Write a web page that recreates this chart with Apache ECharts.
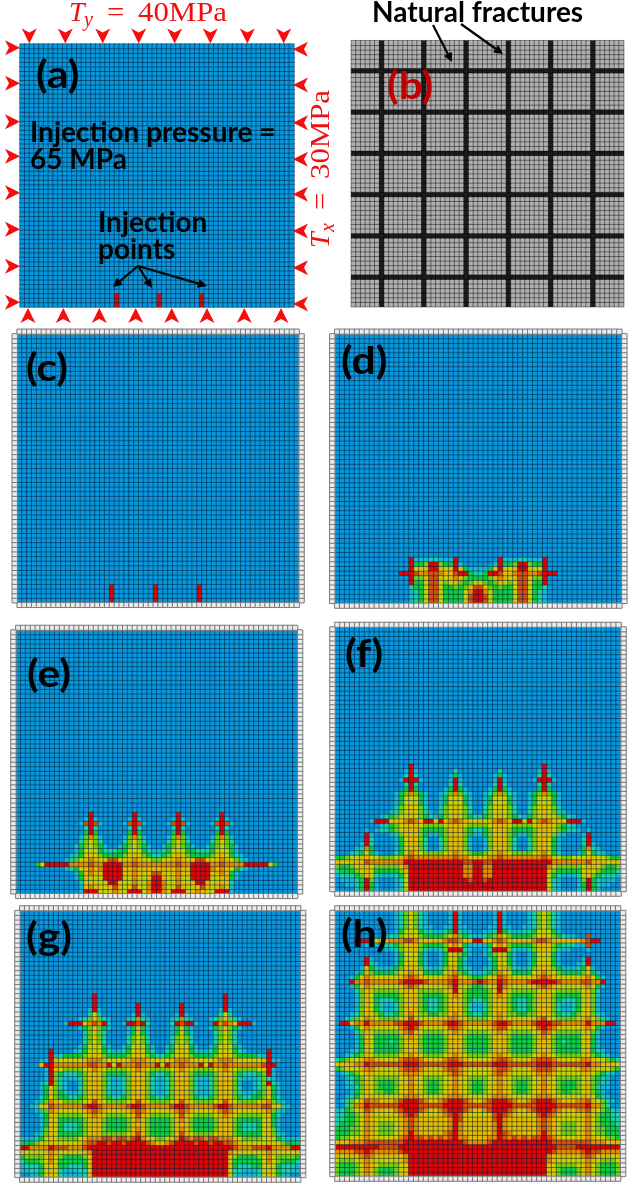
<!DOCTYPE html>
<html>
<head>
<meta charset="utf-8">
<style>html,body{margin:0;padding:0;background:#fff}#chart{width:634px;height:1193px}</style>
<script src="https://cdn.jsdelivr.net/npm/echarts@6/dist/echarts.min.js"></script>
</head>
<body>
<div id="chart"></div>
<script>
// Pressure levels per cell, 0 (far field) to 9 (injection pressure).
// Rows run top to bottom and end on the bottom row of the mesh; rows above the first listed are far field.
// Each row: left margin, then a fracture column followed by the 8 cells up to the next fracture.
const stateA = [
"000000 0 00000000 0 00009000 0 00009000 0 00009000 0 00000000 0 000000",
"000000 0 00000000 0 00009000 0 00009000 0 00009000 0 00000000 0 000000",
"000000 0 00000000 0 00009000 0 00009000 0 00009000 0 00000000 0 000000"];
const stateC = [
"000000 0 00000000 0 00090000 0 00090000 0 00090000 0 00000000 0 000000",
"000000 0 00000000 0 00090000 0 00090000 0 00090000 0 00000000 0 000000",
"000000 0 00000000 0 00090000 0 00090000 0 00090000 0 00000000 0 000000",
"000000 0 00000000 0 00090000 0 00090000 0 00090000 0 00000000 0 000000"];
const stateD = [
"000000 0 00000000 9 11122111 9 00000000 9 11122111 9 00000000 0 000000",
"000000 0 00000000 9 33499433 9 10000001 9 33499433 9 00000000 0 000000",
"000000 0 00000000 9 55699656 9 63111136 9 65699655 9 00000000 0 000000",
"000000 0 00000099 9 87788766 8 99322399 8 66788778 9 99000000 0 000000",
"000000 0 00000000 9 44688656 7 64333346 7 65688644 9 00000000 0 000000",
"000000 0 00000000 9 33588545 6 43455434 6 54588533 9 00000000 0 000000",
"000000 0 00000000 2 33588533 4 34688643 4 33588533 2 00000000 0 000000",
"000000 0 00000000 1 23588533 3 35799753 3 33588532 1 00000000 0 000000",
"000000 0 00000000 1 23588533 3 35899853 3 33588532 1 00000000 0 000000",
"000000 0 00000000 1 23588533 3 35899853 3 33588532 1 00000000 0 000000"];
const stateE = [
"000000 0 00000000 9 00000000 9 00000000 9 00000000 9 00000000 0 000000",
"000000 0 00000001 9 10000001 9 10000001 9 10000001 9 10000000 0 000000",
"000000 0 00000018 9 81000018 9 81000018 9 81000018 9 81000000 0 000000",
"000000 0 00000002 9 20000002 9 20000002 9 20000002 9 20000000 0 000000",
"000000 0 00000003 9 30000003 9 30000003 9 30000003 9 30000000 0 000000",
"000000 0 00000014 7 41000014 7 41000014 7 41000014 7 41000000 0 000000",
"000000 0 00000024 5 42000024 5 42000024 5 42000024 5 42000000 0 000000",
"000000 0 00000134 5 43100134 5 43100134 5 43100134 5 43100000 0 000000",
"000000 0 00000135 5 53222335 5 53211235 5 53322235 5 53100000 0 000000",
"000000 0 00001235 6 54333345 6 54322345 6 54333345 6 53210000 0 000000",
"000000 0 00012456 7 65688656 7 65544556 7 65688656 7 65421000 0 000000",
"000035 9 99997777 8 77999977 8 77777777 8 77999977 8 77779999 9 530000",
"000000 0 00012356 7 67999966 7 66666666 7 66999976 7 65321000 0 000000",
"000000 0 00000136 7 66999966 7 65688656 7 66999966 7 63100000 0 000000",
"000000 0 00000136 6 55999955 7 55699655 7 55999955 6 63100000 0 000000",
"000000 0 00000025 6 55699655 7 55799755 7 55699655 6 52000000 0 000000",
"000000 0 00000016 7 65568656 8 55799755 8 65568656 7 61000000 0 000000",
"000000 0 00000019 9 95567659 9 95799759 9 95676559 9 91000000 0 000000"];
const stateF = [
"000000 0 00000000 9 00000000 0 00000000 0 00000000 9 00000000 0 000000",
"000000 0 00000001 9 10000000 2 00000000 2 00000001 9 10000000 0 000000",
"000000 0 00000002 9 20000001 3 10000001 3 10000002 9 20000000 0 000000",
"000000 0 00000019 9 91000001 9 10000001 9 10000019 9 91000000 0 000000",
"000000 0 00000002 9 20000002 9 20000002 9 20000002 9 20000000 0 000000",
"000000 0 00000003 9 30000013 9 31000013 9 31000003 9 30000000 0 000000",
"000000 0 00000134 7 43100124 7 42100124 7 42100134 7 43100000 0 000000",
"000000 0 00000135 5 53100135 5 53100135 5 53100135 5 53100000 0 000000",
"000000 0 00000135 5 53100135 5 53100135 5 53100135 5 53100000 0 000000",
"000000 0 00000245 6 54200245 6 54200245 6 54200245 6 54200000 0 000000",
"000000 0 00001245 6 54210245 6 54200245 6 54200245 6 54210000 0 000000",
"000000 0 00123455 6 54321345 6 54322345 6 54321345 6 55432100 0 000000",
"000000 0 19996667 8 76995967 8 76666667 8 76995967 8 76669991 0 000000",
"000000 0 00123456 6 65444456 6 65444456 6 65444456 6 65432100 0 000000",
"000000 1 01223456 6 64333346 6 64322346 6 64333346 6 65432210 1 000000",
"000000 9 10001246 6 64311346 6 64311346 6 64311346 6 64210001 9 000000",
"000000 9 20000135 6 64200246 6 64100146 6 64200246 6 53100002 9 000000",
"000001 9 20000135 6 64200246 6 64100146 6 64200246 6 53100002 9 100000",
"000012 7 30000135 6 64200246 6 64100146 6 64200246 6 53100003 7 210000",
"000123 5 31000235 7 65444456 7 65433456 7 65444456 7 53200013 5 321000",
"334556 6 55444567 8 77777777 8 77666677 8 77777777 8 76544555 6 655433",
"665666 8 77777779 9 99999999 9 98899889 9 99999999 9 97777777 8 666566",
"433456 6 54444467 9 99999999 9 97799779 9 99999999 9 76444445 6 654334",
"233345 6 53333346 9 99999999 9 97799779 9 99999999 9 64333335 6 543332",
"122234 6 52111235 9 99999999 9 97799779 9 99999999 9 53211125 6 432221",
"011123 9 41000125 9 99999999 9 99899899 9 99999999 9 52100014 9 321110",
"001123 9 31000125 9 99999999 9 99999999 9 99999999 9 52100013 9 321100",
"000013 9 31000126 9 99999999 9 99999999 9 99999999 9 62100013 9 310000"];
const stateG = [
"000000 0 00000000 9 00000000 0 00000000 0 00000000 9 00000000 0 000000",
"000000 0 00000000 9 00000000 0 00000000 0 00000000 9 00000000 0 000000",
"000000 0 00000000 9 00000000 9 00000000 9 00000000 9 00000000 0 000000",
"000000 0 00000001 9 10000000 9 00000000 9 00000001 9 10000000 0 000000",
"000000 0 00000002 5 20000001 9 10000001 9 10000002 5 20000000 0 000000",
"000000 0 00000124 6 42100012 7 21000012 7 21000124 6 42100000 0 000000",
"000000 0 00199967 8 79100199 8 92000029 8 99100097 8 76999100 0 000000",
"000000 0 00000134 6 43100013 6 31000013 6 31000134 6 43100000 0 000000",
"000000 0 00000024 5 42000013 5 31000013 5 31000024 5 42000000 0 000000",
"000000 0 00000024 5 42000024 5 42000024 5 42000024 5 42000000 0 000000",
"000000 0 00000024 5 42000024 5 42000024 5 42000024 5 42000000 0 000000",
"000000 0 00000135 5 53100135 5 53100135 5 53100135 5 53100000 0 000000",
"000000 9 00001235 5 53211235 6 53200235 6 53211235 5 53210000 9 000000",
"000000 9 12333345 6 54333345 6 54322345 6 54333345 6 54333321 9 000000",
"000011 9 65555567 7 76555567 7 76555567 7 76555567 7 76555556 9 110000",
"000069 9 77777778 8 77959777 8 77795977 8 77795977 8 77777778 9 900000",
"000001 9 65444456 7 65444456 7 65444456 7 65444456 7 65444456 9 100000",
"000001 9 43222346 6 64333346 6 64322346 6 64333346 6 64322234 9 100000",
"000001 9 42111246 6 64211246 6 64211246 6 64211246 6 64211124 2 100000",
"000012 9 42100146 6 64211246 6 64211246 6 64211246 6 64100124 9 210000",
"000013 6 42100246 6 64211246 6 64211246 6 64211246 6 64200124 6 310000",
"000013 6 43211246 6 64211246 6 64211246 6 64211246 6 64211234 6 310000",
"000023 6 43322346 6 64322346 6 64322346 6 64322346 6 64322334 6 320000",
"000124 7 65444456 8 65444456 8 65444456 8 65444456 8 65444456 7 421000",
"001256 8 77777789 9 87777789 9 87777789 9 87777789 9 87777778 8 652100",
"000124 7 65555567 8 76555567 8 76555567 8 76555567 8 76555556 7 421000",
"000023 6 54444456 7 65444456 8 65444456 8 65444456 7 65444445 6 320000",
"000013 6 53333346 6 64333346 7 64333346 7 64333346 6 64333335 6 310000",
"000013 6 53222346 6 64333346 6 64333346 6 64333346 6 64322235 6 310000",
"000014 6 53222346 6 64333346 7 64333346 7 64333346 6 64322235 6 410000",
"000124 6 53333346 6 64444456 8 64333346 8 65444456 6 64333335 6 421000",
"111235 6 54444567 7 78878878 9 76544567 9 87887887 7 76544445 6 532111",
"333455 6 55555678 8 99899899 9 98766789 9 99899899 8 87655555 6 554333",
"997777 9 88877789 9 99999999 9 99999999 9 99999999 9 98777888 9 777799",
"655556 7 65555567 9 99999999 9 99999999 9 99999999 9 76555556 7 655556",
"344445 7 54333346 9 99999999 9 99999999 9 99999999 9 64333345 7 544443",
"233345 7 53333336 9 99999999 9 99999999 9 99999999 9 63333335 7 543332",
"122235 6 53322236 9 99999999 9 99999999 9 99999999 9 63222335 6 532221",
"112235 6 52111226 9 99999999 9 99999999 9 99999999 9 62211125 6 532211",
"001135 6 52111126 9 99999999 9 99999999 9 99999999 9 62111125 6 531100"];
const stateH = [
"000000 0 00000124 5 42100001 9 10000001 9 10000124 5 42100000 0 000000",
"000000 0 00000124 5 42100001 9 10000001 9 10000124 5 42100000 0 000000",
"000000 0 00000124 5 42100001 9 10000001 9 10000124 5 42100000 0 000000",
"000000 0 00000124 5 42110011 9 11000011 9 11001124 5 42100000 0 000000",
"000000 0 00000135 5 53221123 9 21100112 9 32112235 5 53100000 0 000000",
"000000 0 00012245 6 54333345 7 43211234 7 54333345 6 54321100 8 000000",
"000099 9 55667778 8 76666678 8 76699667 8 76666678 8 76666667 8 990000",
"000000 1 11222346 6 64333346 7 53111135 7 64333346 6 64322211 8 000000",
"000000 0 00011245 6 64211249 9 92100129 9 94211246 6 54211000 1 000000",
"000000 0 00000135 5 53100135 6 43100134 6 53100135 5 53100000 0 000000",
"000000 9 10000135 5 53100135 6 32000023 6 53100135 5 53100001 9 000000",
"000000 9 21000135 6 53100135 6 31000013 6 53100135 6 53100012 9 000000",
"000001 6 32111346 6 64211246 6 32100123 6 64211246 6 64311123 6 100000",
"000013 6 43333456 7 65333356 7 43211234 7 65333356 7 65433334 6 310000",
"000135 7 65555567 8 76555567 8 65433456 8 76555567 8 76555556 7 531000",
"000977 8 77777789 9 99877778 9 77789877 9 87777899 9 99877778 8 779000",
"000135 7 65555567 8 76555567 9 65433456 9 76555567 8 76555556 7 531000",
"000024 6 54444456 6 54444456 9 54333345 9 65444445 6 65444445 6 420000",
"000014 6 53333346 6 64333346 7 64333346 7 64333346 6 64333335 6 410000",
"000014 6 53222346 6 64322346 6 64322346 6 64322346 6 64322235 6 410000",
"000014 6 53211246 6 64322346 6 64211246 6 64322346 6 64211235 6 410000",
"000014 6 53211246 6 64322346 6 64211246 6 64322346 6 64211235 6 410000",
"000124 6 54322346 7 64433446 7 64322346 7 64433446 6 64322345 6 421000",
"001245 7 65444456 8 65555567 7 65444456 7 65555567 8 65444456 7 542100",
"099677 9 77777889 9 98777789 9 87777778 9 98777789 9 98877777 9 777990",
"000135 7 65555678 9 86555568 8 76555567 8 86555568 9 87655556 7 531000",
"000024 6 54444467 8 65444456 7 65444456 7 65444456 8 76444445 6 420000",
"000013 6 53333346 7 64333346 6 64333346 6 64333346 7 64333335 6 310000",
"000013 6 53332346 6 64333346 6 64333346 6 64333346 6 64323335 6 310000",
"000013 6 53333346 6 64333346 6 64333346 6 64333346 6 64333335 6 310000",
"000123 6 53333346 6 64333346 6 64333346 6 64333346 6 64333335 6 321000",
"001234 6 54444456 7 65444456 7 65444456 7 65444456 7 65444445 6 432100",
"234556 7 76555678 8 87655678 8 76555567 8 87655678 8 87655567 7 655432",
"566677 9 88888889 9 98888889 9 98888889 9 98888889 9 98888888 9 776665",
"345556 7 76555678 8 87655678 8 76555567 8 87655678 8 87655567 7 655543",
"012345 6 65555567 7 76555567 8 76555567 8 76555567 7 76555556 6 543210",
"001234 6 54444456 7 65444456 7 65444456 7 65444456 7 65444445 6 432100",
"001234 6 54333456 7 65433456 7 65433456 7 65433456 7 65433345 6 432100",
"001124 6 54333456 7 65433456 7 65433456 7 65433456 7 65433345 6 421100",
"000134 6 54433456 7 65433456 7 65433456 7 65433456 7 65433445 6 431000",
"001235 6 65555567 7 76555567 7 76555567 7 76555567 7 76555556 6 532100",
"012456 8 77666789 9 98766789 9 98766789 9 98766789 9 98766677 8 654210",
"002477 9 88888899 9 98888899 9 98888889 9 99888889 9 99888888 9 774200",
"123456 8 76666789 9 98766789 9 98766789 9 98766789 9 98766677 8 654321",
"223345 7 65555678 9 86555678 9 86555568 9 87655568 9 87655556 7 543322",
"223345 7 65555567 8 76666667 9 86666668 9 76666667 8 76555556 7 543322",
"233345 7 65444567 8 76666667 9 76666667 9 76666667 8 76544456 7 543332",
"333445 7 65444567 8 76666667 9 76666667 9 76666667 8 76544456 7 544333",
"333445 7 65444567 9 76666678 9 76666667 9 87666667 9 76544456 7 544333",
"344556 7 65555678 9 88787878 9 77666677 9 87878788 9 87655556 7 655443",
"666777 8 88888889 9 99999999 9 98777789 9 99999999 9 98888888 8 777666",
"999999 9 99888899 9 99999999 9 99999999 9 99999999 9 99888899 9 999999",
"777788 9 87777789 9 99999999 9 99999999 9 99999999 9 98777778 9 887777",
"656667 8 76666667 9 99999999 9 99999999 9 99999999 9 76666667 8 766656",
"544456 7 65555567 9 99999999 9 99999999 9 99999999 9 76555556 7 654445",
"433345 7 65444456 9 99999999 9 99999999 9 99999999 9 65444456 7 543334",
"433345 7 64333456 9 99999999 9 99999999 9 99999999 9 65433346 7 543334",
"433345 7 64333456 9 99999999 9 99999999 9 99999999 9 65433346 7 543334"];

// Natural fracture set of the mesh, as column and row indices counted from the lower left.
const fractureCols = [6, 15, 24, 33, 42, 51];
const fractureRows = [6, 15, 24, 33, 42, 51];

const levelColors = ['#0598dc', '#12bcd6', '#18d4ac', '#10cc40', '#74d012', '#ccd200', '#e4bc00', '#e48c00', '#d65008', '#dc0606'];
const rockColor = '#b0b0b0', fractureColor = '#1c1c1c', ringColor = '#ececec';
const ROCK = 10, FRACTURE = 11, RING = 12, N = 58;

const panels = [
  {rows: stateA, left: 20, top: 44, right: 294, bottom: 307, ring: false},
  {rock: true, left: 351.3, top: 40.7, right: 623.7, bottom: 306.7, ring: false},
  {rows: stateC, left: 12.3, top: 329.3, right: 304, bottom: 607.3, ring: true},
  {rows: stateD, left: 329.8, top: 329.3, right: 626.8, bottom: 608, ring: true},
  {rows: stateE, left: 11, top: 625.5, right: 302.5, bottom: 898.3, ring: true},
  {rows: stateF, left: 330, top: 622.5, right: 626, bottom: 896, ring: true},
  {rows: stateG, left: 15, top: 906, right: 305.5, bottom: 1182, ring: true},
  {rows: stateH, left: 330, top: 906, right: 625.5, bottom: 1181, ring: true}
];

function panelCells(p) {
  const cells = [];
  const off = p.ring ? 1 : 0;
  if (p.rock) {
    for (let r = 0; r < N; r++) for (let c = 0; c < N; c++) {
      cells.push([c, r, fractureCols.includes(c) || fractureRows.includes(r) ? FRACTURE : ROCK]);
    }
    return cells;
  }
  const grid = p.rows.map(s => s.replace(/\s/g, ''));
  for (let r = 0; r < N; r++) {
    const line = grid[grid.length - 1 - r];
    for (let c = 0; c < N; c++) {
      cells.push([c + off, r + off, line ? +line[c] : 0]);
    }
  }
  if (p.ring) {
    const ringCell = (x, y) => ({value: [x, y, RING], itemStyle: {borderColor: '#787878', borderWidth: 1}});
    for (let i = 1; i <= N; i++) {
      cells.push(ringCell(i, 0), ringCell(i, N + 1), ringCell(0, i), ringCell(N + 1, i));
    }
  }
  return cells;
}

const indexLabels = n => Array.from({length: n}, (_, i) => String(i));
const grids = [], xAxes = [], yAxes = [], series = [];
panels.forEach((p, i) => {
  const n = p.ring ? N + 2 : N;
  grids.push({left: p.left, top: p.top, width: p.right - p.left, height: p.bottom - p.top});
  const axis = {type: 'category', data: indexLabels(n), show: false, gridIndex: i};
  xAxes.push(axis);
  yAxes.push(Object.assign({}, axis));
  series.push({
    type: 'heatmap', xAxisIndex: i, yAxisIndex: i, data: panelCells(p), silent: true,
    progressive: 0, animation: false,
    itemStyle: {borderColor: p.rock ? 'rgba(0,0,0,0.5)' : 'rgba(0,25,55,0.6)', borderWidth: 0.8},
    emphasis: {disabled: true}
  });
});

const pieces = levelColors.map((color, value) => ({value, color}));
pieces.push({value: ROCK, color: rockColor}, {value: FRACTURE, color: fractureColor}, {value: RING, color: ringColor});

// Confining-stress arrowheads around the first panel, by position along each edge.
const topArrowX = [29.3, 65.3, 102.7, 138.7, 174.7, 210.3, 247.3, 283.7];
const bottomArrowX = [28, 63.3, 99.3, 135.7, 171.7, 207, 244.3, 281];
const leftArrowY = [47.7, 83.3, 121.7, 156.3, 192.7, 229.3, 266.3, 302.3];
const rightArrowY = [49.3, 85, 122.7, 159.3, 194.3, 231, 267.7, 304];

const RED = '#f40f0f';
const graphics = [];
function head(tx, ty, dx, dy, len, half, notch, fill) {
  // Notched arrowhead with its tip at (tx, ty) pointing along (dx, dy).
  const px = -dy, py = dx;
  const bx = tx - dx * len, by = ty - dy * len;
  graphics.push({type: 'polygon', silent: true, z: 20, shape: {points: [
    [tx, ty], [bx + px * half, by + py * half],
    [tx - dx * (len - notch), ty - dy * (len - notch)],
    [bx - px * half, by - py * half]
  ]}, style: {fill}});
}
topArrowX.forEach(x => head(x, 43.5, 0, 1, 15, 7.5, 4, RED));
bottomArrowX.forEach(x => head(x, 308, 0, -1, 15, 7.5, 4, RED));
leftArrowY.forEach(y => head(20, y, 1, 0, 15, 7.5, 4, RED));
rightArrowY.forEach(y => head(293, y, -1, 0, 15, 7.5, 4, RED));

function pointer(x1, y1, x2, y2) {
  const L = Math.hypot(x2 - x1, y2 - y1), dx = (x2 - x1) / L, dy = (y2 - y1) / L;
  graphics.push({type: 'line', silent: true, z: 21, shape: {x1, y1, x2: x2 - dx * 6, y2: y2 - dy * 6},
    style: {stroke: '#000', lineWidth: 2.2}});
  head(x2, y2, dx, dy, 9, 4.5, 0, '#000');
}
pointer(138, 266, 113, 287);
pointer(138, 266, 152, 288);
pointer(138, 266, 207, 286);
pointer(433, 25, 452, 62);
pointer(461, 24, 503, 54);

// Text helper: (x, y) is the baseline origin; the local offset moves it from the line-box top.
function text(str, x, y, o) {
  graphics.push({
    type: 'text', silent: true, z: 30, x, y, rotation: o.rotation || 0, scaleX: o.scaleX || 1,
    style: {text: str, x: 0, y: -0.84 * o.size, fill: o.fill || '#000',
      font: (o.italic ? 'italic ' : '') + (o.bold === false ? '' : 'bold ') + o.size + 'px ' + (o.family || 'Lato')}
  });
}
const serif = {fill: '#f01010', bold: false, family: '"Liberation Serif"'};
const rot = Math.PI / 2;
// Horizontal stress label
text('T', 69, 23, {...serif, size: 28, italic: true});
text('y', 84, 28, {...serif, size: 20, italic: true});
text('=', 107, 23, {...serif, size: 28, scaleX: 1.1});
text('40MPa', 138, 23, {...serif, size: 28, scaleX: 1.1});
// Vertical stress label, reading bottom to top
text('T', 331, 248, {...serif, size: 28, italic: true, rotation: rot});
text('x', 336, 232, {...serif, size: 20, italic: true, rotation: rot});
text('=', 331, 210, {...serif, size: 28, rotation: rot, scaleX: 1.1});
text('30MPa', 331, 179, {...serif, size: 28, rotation: rot, scaleX: 1.1});

const tag = {size: 38, scaleX: 1.12};
text('(a)', 36, 89, tag);
text('(b)', 387, 100, {...tag, fill: '#c00000'});
text('(c)', 26, 382, tag);
text('(d)', 341, 375, tag);
text('(e)', 27, 688, tag);
text('(f)', 345, 668, tag);
text('(g)', 26, 951, tag);
text('(h)', 341, 948, tag);

text('Injection pressure =', 30, 142, {size: 28});
text('65 MPa', 30, 169, {size: 28});
text('Injection', 98, 232, {size: 28});
text('points', 98, 259, {size: 28});
text('Natural fractures', 372, 22, {size: 28});

const chart = echarts.init(document.getElementById('chart'), null, {renderer: 'canvas'});
chart.setOption({
  animation: false,
  backgroundColor: '#fff',
  grid: grids,
  xAxis: xAxes,
  yAxis: yAxes,
  visualMap: {type: 'piecewise', show: false, dimension: 2, seriesIndex: series.map((_, i) => i), pieces},
  series,
  graphic: graphics
});
</script>
</body>
</html>
